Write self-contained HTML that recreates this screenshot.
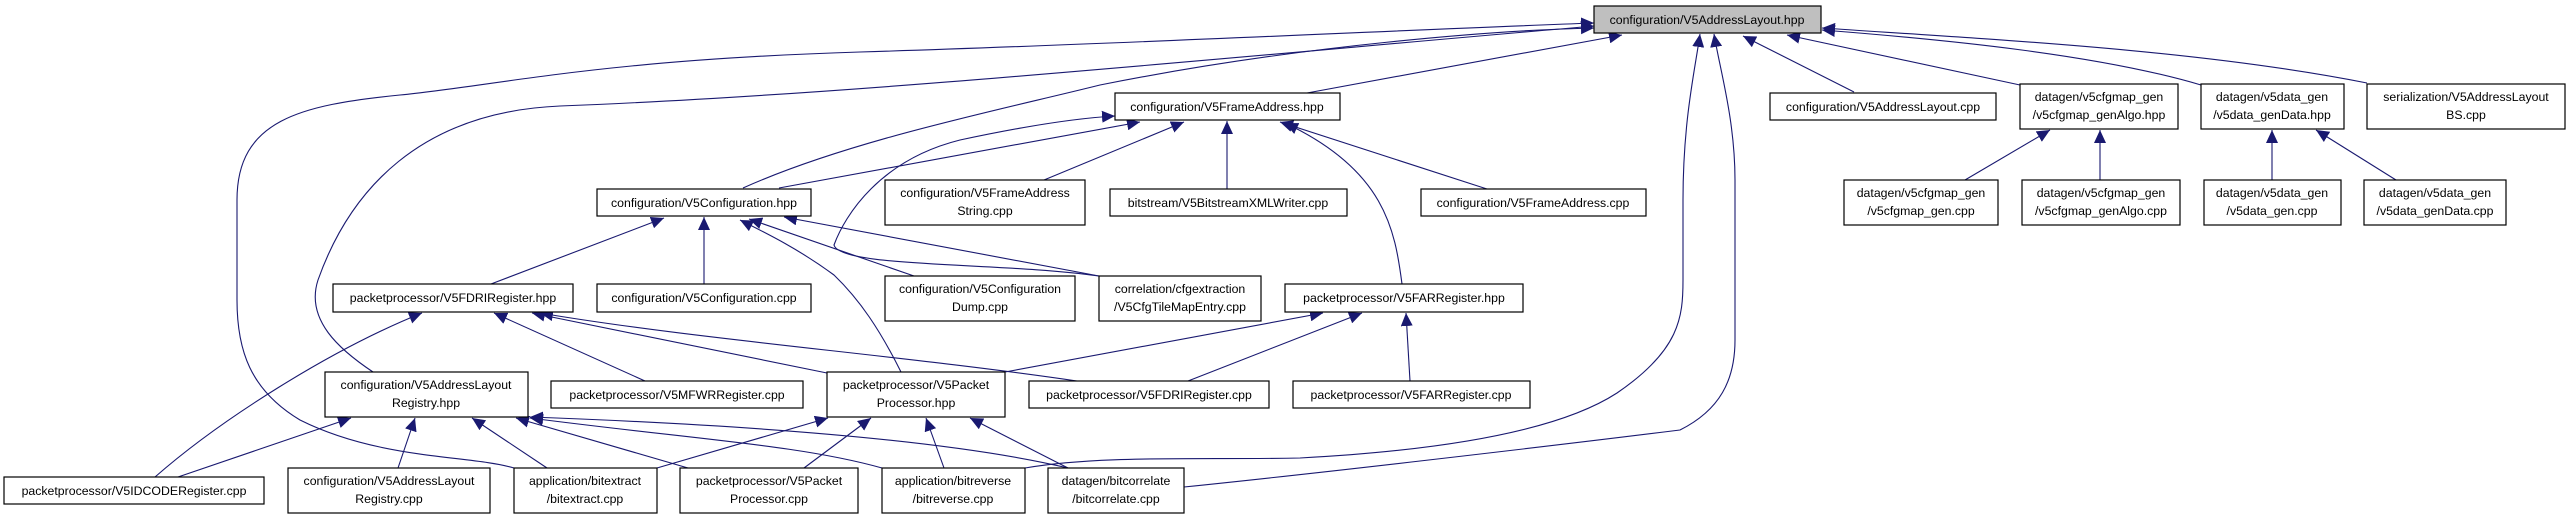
<!DOCTYPE html>
<html><head><meta charset="utf-8"><style>
html,body{margin:0;padding:0;background:#fff;}
svg{display:block;}
text{font-family:"Liberation Sans",Arial,sans-serif;font-size:12.3px;fill:#000;text-anchor:middle;}
.b{fill:#fff;stroke:#000;stroke-width:1.2;}
.e{fill:none;stroke:#191970;stroke-width:1.1;marker-end:url(#a);}
</style></head><body>
<svg width="2571" height="520" viewBox="0 0 2571 520" xmlns="http://www.w3.org/2000/svg">
<defs><marker id="a" markerUnits="userSpaceOnUse" markerWidth="14" markerHeight="12" refX="13" refY="6" orient="auto"><path d="M0,0 L13,6 L0,12 z" fill="#191970"/></marker></defs>

<path class="e" d="M373,372 C340,350 305,320 318,280 C350,190 420,112 560,106 C850,95 1200,60 1594,26"/>
<path class="e" d="M514,468 C470,455 380,460 300,420 C250,390 237,350 237,300 L237,200 C237,120 300,105 400,95 C500,85 600,60 860,52 C1100,45 1400,30 1594,23"/>
<path class="e" d="M743,188 C850,140 1000,110 1100,85 C1300,45 1500,30 1594,28"/>
<path class="e" d="M1307,93 L1622,35"/>
<path class="e" d="M1025,468 C1100,455 1200,460 1300,458 C1450,450 1560,430 1617,393 C1680,350 1683,317 1683,280 L1683,200 C1683,120 1695,70 1700,34"/>
<path class="e" d="M1184,487 C1350,470 1600,440 1680,430 C1720,410 1735,380 1735,340 L1735,180 C1735,120 1720,70 1714,34"/>
<path class="e" d="M1854,92 L1743,36"/>
<path class="e" d="M2020,85 L1787,35"/>
<path class="e" d="M2201,85 C2100,55 1950,40 1822,30"/>
<path class="e" d="M2367,83 C2200,50 2000,40 1822,28"/>

<path class="e" d="M1099,276 C1000,262 840,268 834,245 C845,215 880,160 960,140 C1030,125 1080,118 1115,116"/>
<path class="e" d="M779,188 L1140,122"/>
<path class="e" d="M1044,180 L1184,122"/>
<path class="e" d="M1227,189 L1227,121"/>
<path class="e" d="M1487,189 L1280,122"/>
<path class="e" d="M1402,284 C1395,230 1385,170 1285,123"/>

<path class="e" d="M491,284 L664,218"/>
<path class="e" d="M704,284 L704,217"/>
<path class="e" d="M914,276 L749,219"/>
<path class="e" d="M1099,276 L784,217"/>
<path class="e" d="M901,372 C880,330 860,300 834,275 C800,250 770,235 740,220"/>

<path class="e" d="M155,477 C220,420 330,350 422,313"/>
<path class="e" d="M645,381 L494,313"/>
<path class="e" d="M827,373 L532,313"/>
<path class="e" d="M1077,381 C900,355 700,340 540,313"/>

<path class="e" d="M1005,372 L1323,313"/>
<path class="e" d="M1188,381 L1362,313"/>
<path class="e" d="M1410,381 L1406,313"/>

<path class="e" d="M178,477 L351,418"/>
<path class="e" d="M398,468 L415,418"/>
<path class="e" d="M547,468 L472,418"/>
<path class="e" d="M688,468 L516,418"/>
<path class="e" d="M882,468 C800,445 700,440 530,418"/>
<path class="e" d="M1068,468 C950,440 750,425 530,417"/>

<path class="e" d="M657,468 L828,418"/>
<path class="e" d="M804,468 L871,418"/>
<path class="e" d="M944,468 L926,418"/>
<path class="e" d="M1068,468 L970,418"/>

<path class="e" d="M1965,180 L2050,130"/>
<path class="e" d="M2100,180 L2100,130"/>
<path class="e" d="M2272,180 L2272,130"/>
<path class="e" d="M2396,180 L2316,130"/>

<rect x="1594" y="6" width="227" height="27" style="fill:#bfbfbf;stroke:#000;stroke-width:1.2"/><text x="1707" y="24">configuration/V5AddressLayout.hpp</text>

<rect class="b" x="1115" y="93" width="225" height="27"/><text x="1227" y="111">configuration/V5FrameAddress.hpp</text>
<rect class="b" x="1770" y="93" width="226" height="27"/><text x="1883" y="111">configuration/V5AddressLayout.cpp</text>
<rect class="b" x="2020" y="84" width="158" height="45"/><text x="2099" y="101">datagen/v5cfgmap_gen</text><text x="2099" y="119">/v5cfgmap_genAlgo.hpp</text>
<rect class="b" x="2201" y="84" width="143" height="45"/><text x="2272" y="101">datagen/v5data_gen</text><text x="2272" y="119">/v5data_genData.hpp</text>
<rect class="b" x="2367" y="84" width="198" height="45"/><text x="2466" y="101">serialization/V5AddressLayout</text><text x="2466" y="119">BS.cpp</text>

<rect class="b" x="597" y="189" width="214" height="27"/><text x="704" y="207">configuration/V5Configuration.hpp</text>
<rect class="b" x="885" y="180" width="200" height="45"/><text x="985" y="197">configuration/V5FrameAddress</text><text x="985" y="215">String.cpp</text>
<rect class="b" x="1110" y="189" width="237" height="27"/><text x="1228" y="207">bitstream/V5BitstreamXMLWriter.cpp</text>
<rect class="b" x="1421" y="189" width="225" height="27"/><text x="1533" y="207">configuration/V5FrameAddress.cpp</text>
<rect class="b" x="1844" y="180" width="154" height="45"/><text x="1921" y="197">datagen/v5cfgmap_gen</text><text x="1921" y="215">/v5cfgmap_gen.cpp</text>
<rect class="b" x="2022" y="180" width="158" height="45"/><text x="2101" y="197">datagen/v5cfgmap_gen</text><text x="2101" y="215">/v5cfgmap_genAlgo.cpp</text>
<rect class="b" x="2204" y="180" width="137" height="45"/><text x="2272" y="197">datagen/v5data_gen</text><text x="2272" y="215">/v5data_gen.cpp</text>
<rect class="b" x="2364" y="180" width="142" height="45"/><text x="2435" y="197">datagen/v5data_gen</text><text x="2435" y="215">/v5data_genData.cpp</text>

<rect class="b" x="333" y="284" width="240" height="28"/><text x="453" y="302">packetprocessor/V5FDRIRegister.hpp</text>
<rect class="b" x="597" y="284" width="214" height="28"/><text x="704" y="302">configuration/V5Configuration.cpp</text>
<rect class="b" x="885" y="276" width="190" height="45"/><text x="980" y="293">configuration/V5Configuration</text><text x="980" y="311">Dump.cpp</text>
<rect class="b" x="1099" y="276" width="162" height="45"/><text x="1180" y="293">correlation/cfgextraction</text><text x="1180" y="311">/V5CfgTileMapEntry.cpp</text>
<rect class="b" x="1285" y="284" width="238" height="28"/><text x="1404" y="302">packetprocessor/V5FARRegister.hpp</text>

<rect class="b" x="325" y="372" width="203" height="45"/><text x="426" y="389">configuration/V5AddressLayout</text><text x="426" y="407">Registry.hpp</text>
<rect class="b" x="551" y="381" width="252" height="27"/><text x="677" y="399">packetprocessor/V5MFWRRegister.cpp</text>
<rect class="b" x="827" y="372" width="178" height="45"/><text x="916" y="389">packetprocessor/V5Packet</text><text x="916" y="407">Processor.hpp</text>
<rect class="b" x="1029" y="381" width="240" height="27"/><text x="1149" y="399">packetprocessor/V5FDRIRegister.cpp</text>
<rect class="b" x="1293" y="381" width="237" height="27"/><text x="1411" y="399">packetprocessor/V5FARRegister.cpp</text>

<rect class="b" x="4" y="477" width="260" height="27"/><text x="134" y="495">packetprocessor/V5IDCODERegister.cpp</text>
<rect class="b" x="288" y="468" width="202" height="45"/><text x="389" y="485">configuration/V5AddressLayout</text><text x="389" y="503">Registry.cpp</text>
<rect class="b" x="514" y="468" width="143" height="45"/><text x="585" y="485">application/bitextract</text><text x="585" y="503">/bitextract.cpp</text>
<rect class="b" x="680" y="468" width="178" height="45"/><text x="769" y="485">packetprocessor/V5Packet</text><text x="769" y="503">Processor.cpp</text>
<rect class="b" x="882" y="468" width="143" height="45"/><text x="953" y="485">application/bitreverse</text><text x="953" y="503">/bitreverse.cpp</text>
<rect class="b" x="1048" y="468" width="136" height="45"/><text x="1116" y="485">datagen/bitcorrelate</text><text x="1116" y="503">/bitcorrelate.cpp</text>
</svg>
</body></html>
